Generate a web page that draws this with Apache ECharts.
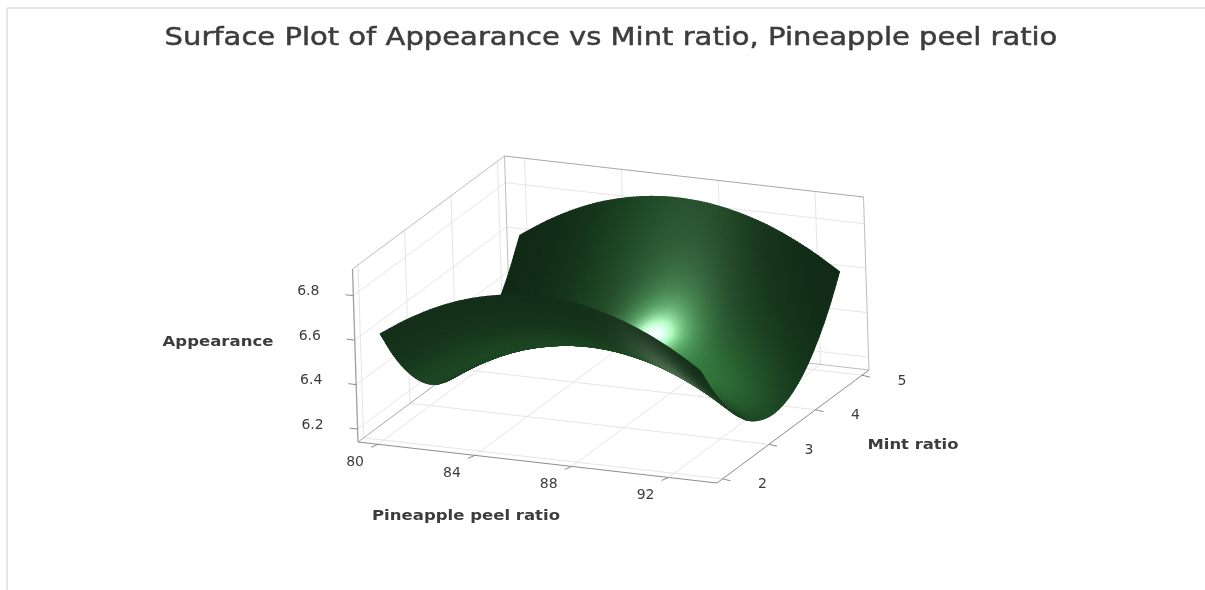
<!DOCTYPE html>
<html>
<head>
<meta charset="utf-8">
<title>Surface Plot</title>
<style>
  html, body { margin: 0; padding: 0; background: #fff; }
  #main { width: 1205px; height: 590px; }
</style>
<script src="https://cdn.jsdelivr.net/npm/echarts@6/dist/echarts.min.js"></script>
</head>
<body>
<div id="main"></div>
<script>
// values
const pineappleValues = [80, 81.1, 82.2, 83.3, 84.4, 85.5, 86.6, 87.7, 88.8, 89.9, 91, 92.1, 93.2];
const mintValues = [2, 2.25, 2.5, 2.75, 3, 3.25, 3.5, 3.75, 4, 4.25, 4.5, 4.75, 5];
// one row per mint value
const appearance = [
  [6.620, 6.696, 6.759, 6.808, 6.842, 6.863, 6.870, 6.863, 6.842, 6.808, 6.759, 6.696, 6.620],
  [6.490, 6.566, 6.629, 6.678, 6.712, 6.733, 6.740, 6.733, 6.712, 6.678, 6.629, 6.566, 6.490],
  [6.384, 6.460, 6.523, 6.572, 6.606, 6.627, 6.634, 6.627, 6.606, 6.572, 6.523, 6.460, 6.384],
  [6.300, 6.376, 6.439, 6.488, 6.522, 6.543, 6.550, 6.543, 6.522, 6.488, 6.439, 6.376, 6.300],
  [6.240, 6.316, 6.379, 6.428, 6.462, 6.483, 6.490, 6.483, 6.462, 6.428, 6.379, 6.316, 6.240],
  [6.204, 6.280, 6.343, 6.392, 6.426, 6.447, 6.454, 6.447, 6.426, 6.392, 6.343, 6.280, 6.204],
  [6.190, 6.266, 6.329, 6.378, 6.412, 6.433, 6.440, 6.433, 6.412, 6.378, 6.329, 6.266, 6.190],
  [6.200, 6.276, 6.339, 6.388, 6.422, 6.443, 6.450, 6.443, 6.422, 6.388, 6.339, 6.276, 6.200],
  [6.233, 6.309, 6.372, 6.421, 6.455, 6.476, 6.483, 6.476, 6.455, 6.421, 6.372, 6.309, 6.233],
  [6.289, 6.365, 6.428, 6.477, 6.511, 6.532, 6.539, 6.532, 6.511, 6.477, 6.428, 6.365, 6.289],
  [6.369, 6.445, 6.508, 6.557, 6.591, 6.612, 6.619, 6.612, 6.591, 6.557, 6.508, 6.445, 6.369],
  [6.471, 6.547, 6.610, 6.659, 6.693, 6.714, 6.721, 6.714, 6.693, 6.659, 6.610, 6.547, 6.471],
  [6.597, 6.673, 6.736, 6.785, 6.819, 6.840, 6.847, 6.840, 6.819, 6.785, 6.736, 6.673, 6.597]
];
const pineappleTicks = [80, 84, 88, 92];
const mintTicks = [2, 3, 4, 5];
const appearanceTicks = [6.2, 6.4, 6.6, 6.8];

const titleText = 'Surface Plot of Appearance vs Mint ratio, Pineapple peel ratio';

// box limits
const xMin = 79.17, xMax = 94;
const mMin = 1.88, mMax = 5.15;
const zMin = 6.142, zMax = 6.92;

// oblique view of the box, pixels
const origin = [358, 442];
const xVec = [359, 41];
const mVec = [152, -113];
const zVec = [-5.5, -173];

function project(x, m, z) {
  const a = (x - xMin) / (xMax - xMin);
  const b = (m - mMin) / (mMax - mMin);
  const c = (z - zMin) / (zMax - zMin);
  return [
    origin[0] + a * xVec[0] + b * mVec[0] + c * zVec[0],
    origin[1] + a * xVec[1] + b * mVec[1] + c * zVec[1]
  ];
}

// line list: frame, walls, floor, ticks
const lineColor = '#a8a8a8', gridColor = '#e6e6e6', tickColor = '#8c8c8c';
const lines = [];
function addLine(p, q, color, width) { lines.push({ p: p, q: q, color: color, width: width || 1 }); }

addLine([7, 8], [7, 590], '#dedede', 1.5);
addLine([7, 8], [1205, 8], '#dedede', 1.5);

pineappleTicks.forEach(function (x) {
  addLine(project(x, mMin, zMin), project(x, mMax, zMin), gridColor);
  addLine(project(x, mMax, zMin), project(x, mMax, zMax), gridColor);
});
mintTicks.forEach(function (m) {
  addLine(project(xMin, m, zMin), project(xMax, m, zMin), gridColor);
  addLine(project(xMin, m, zMin), project(xMin, m, zMax), gridColor);
});
appearanceTicks.forEach(function (z) {
  addLine(project(xMin, mMin, z), project(xMin, mMax, z), gridColor);
  addLine(project(xMin, mMax, z), project(xMax, mMax, z), gridColor);
});

addLine(project(xMin, mMax, zMin), project(xMin, mMax, zMax), '#bdbdbd');
addLine(project(xMax, mMax, zMin), project(xMax, mMax, zMax), '#bdbdbd');
addLine(project(xMin, mMax, zMax), project(xMax, mMax, zMax), '#a8a8a8');
addLine(project(xMin, mMin, zMax), project(xMin, mMax, zMax), '#bdbdbd');
addLine(project(xMin, mMax, zMin), project(xMax, mMax, zMin), '#bdbdbd');
addLine(project(xMin, mMin, zMin), project(xMin, mMax, zMin), lineColor);
addLine(project(xMin, mMin, zMin), project(xMin, mMin, zMax), '#a0a0a0', 1.3);
addLine(project(xMin, mMin, zMin), project(xMax, mMin, zMin), tickColor);
addLine(project(xMax, mMin, zMin), project(xMax, mMax, zMin), tickColor);

const tickFont = '14px "DejaVu Sans"';
const labelFont = 'bold 14px "DejaVu Sans"';
const texts = [];
pineappleTicks.forEach(function (x) {
  const p = project(x, mMin, zMin);
  addLine(p, [p[0] - 7, p[1] + 3], tickColor);
  texts.push({ text: String(x), x: p[0] - 23, y: p[1] + 18, font: tickFont });
});
mintTicks.forEach(function (m) {
  const p = project(xMax, m, zMin);
  addLine(p, [p[0] + 8, p[1] + 2], tickColor);
  texts.push({ text: String(m), x: p[0] + 40, y: p[1] + 6, font: tickFont });
});
appearanceTicks.forEach(function (z) {
  const p = project(xMin, mMin, z);
  addLine(p, [p[0] - 8, p[1] - 1], tickColor);
  texts.push({ text: z.toFixed(1), x: p[0] - 45, y: p[1] - 4, font: tickFont });
});
// the picture's text is stretched sideways
texts.push({ text: 'Appearance', x: 218, y: 342, font: labelFont, stretch: 1.18 });
texts.push({ text: 'Pineapple peel ratio', x: 466, y: 516, font: labelFont, stretch: 1.18 });
texts.push({ text: 'Mint ratio', x: 913, y: 445, font: labelFont, stretch: 1.17 });
texts.push({ text: titleText, x: 611, y: 38, font: '25px "DejaVu Sans"', stretch: 1.161, weight: 0.5 });

// smooth drawing of the read values
function catmull(p0, p1, p2, p3, t) {
  return 0.5 * (2 * p1 + (p2 - p0) * t + (2 * p0 - 5 * p1 + 4 * p2 - p3) * t * t + (3 * p1 - p0 - 3 * p2 + p3) * t * t * t);
}
function clampIndex(i, n) { return Math.max(0, Math.min(n - 1, i)); }
function rowAt(r, ci, t) {
  const row = appearance[clampIndex(r, appearance.length)];
  const n = row.length;
  let p0 = row[clampIndex(ci - 1, n)], p3 = row[clampIndex(ci + 2, n)];
  if (ci - 1 < 0) p0 = 2 * row[0] - row[1];
  if (ci + 2 >= n) p3 = 2 * row[n - 1] - row[n - 2];
  return catmull(p0, row[ci], row[clampIndex(ci + 1, n)], p3, t);
}
function heightAt(c, r) {
  const ci = Math.min(Math.floor(c), pineappleValues.length - 2), ct = c - ci;
  const ri = Math.min(Math.floor(r), mintValues.length - 2), rt = r - ri;
  const a = rowAt(ri, ci, ct), b = rowAt(ri + 1, ci, ct);
  const prev = ri - 1 < 0 ? 2 * a - b : rowAt(ri - 1, ci, ct);
  const next = ri + 2 >= mintValues.length ? 2 * b - a : rowAt(ri + 2, ci, ct);
  return catmull(prev, a, b, next, rt);
}

const SUB = 9;
const nx = (pineappleValues.length - 1) * SUB + 1;
const ny = (mintValues.length - 1) * SUB + 1;
const xStep = pineappleValues[1] - pineappleValues[0];
const mStep = mintValues[1] - mintValues[0];

function xAt(i) { return pineappleValues[0] + i / SUB * xStep; }
function mAt(j) { return mintValues[0] + j / SUB * mStep; }

const mesh = [];
for (let j = 0; j < ny; j++) {
  const row = [];
  for (let i = 0; i < nx; i++) {
    row.push(project(xAt(i), mAt(j), heightAt(i / SUB, j / SUB)));
  }
  mesh.push(row);
}

function spot(x, m, cx, cm, sx, sm) {
  const a = (x - cx) / sx, b = (m - cm) / sm;
  return Math.exp(-a * a - b * b);
}
function clamp255(v) { return Math.round(Math.max(0, Math.min(255, v))); }

// lit colour, one ramp for the upper side and one for the underside
function shade(x, m, upper) {
  let r, g, b;
  if (upper) {
    const green = spot(x, m, 90.7, 3.3, 2.8, 0.9);
    const broad = spot(x, m, 86.3, 4.6, 3.2, 1.4);
    const band = spot(x, m, 87.8, 4.2, 2.2, 1.0);
    const glow = spot(x, m, 87.9, 3.75, 1.5, 0.55);
    const hot = spot(x, m, 87.9, 3.75, 0.75, 0.26);
    r = 17 + 30 * green + 14 * broad + 22 * band + 60 * glow + 140 * hot;
    g = 42 + 70 * green + 32 * broad + 24 * band + 110 * glow + 110 * hot;
    b = 22 + 34 * green + 16 * broad + 22 * band + 70 * glow + 140 * hot;
  } else {
    const low = Math.exp(-Math.pow((m - 3.0) / 0.6, 2));
    const gray = spot(x, m, 90.9, 2.6, 1.5, 0.5);
    const tip = spot(x, m, 93, 3.05, 1.3, 0.22);
    r = 20 + 10 * low + 50 * gray + 28 * tip;
    g = 46 + 26 * low + 46 * gray + 60 * tip;
    b = 25 + 12 * low + 46 * gray + 32 * tip;
  }
  return 'rgb(' + clamp255(r) + ',' + clamp255(g) + ',' + clamp255(b) + ')';
}

// far cells first: high mint, low pineapple
const cells = [];
for (let j = ny - 2; j >= 0; j--) {
  for (let i = 0; i < nx - 1; i++) {
    cells.push([i, j]);
  }
}

function renderCell(params, api) {
  const i = api.value(0), j = api.value(1);
  const a = mesh[j][i], b = mesh[j][i + 1], c = mesh[j + 1][i + 1], d = mesh[j + 1][i];
  const area = (c[0] - a[0]) * (d[1] - b[1]) - (c[1] - a[1]) * (d[0] - b[0]);
  const color = shade(xAt(i + 0.5), mAt(j + 0.5), area < 0);
  return {
    type: 'polygon',
    shape: { points: [a, b, c, d] },
    style: { fill: color, stroke: color, lineWidth: 1.2 },
    silent: true
  };
}

function renderLine(params) {
  const l = lines[params.dataIndex];
  return {
    type: 'line',
    shape: { x1: l.p[0], y1: l.p[1], x2: l.q[0], y2: l.q[1] },
    style: { stroke: l.color, lineWidth: l.width },
    silent: true
  };
}

function renderText(params) {
  const t = texts[params.dataIndex];
  return {
    type: 'text',
    x: t.x,
    y: t.y,
    scaleX: t.stretch || 1,
    style: {
      text: t.text,
      x: 0,
      y: 0,
      font: t.font,
      fill: '#3c3c3c',
      stroke: t.weight ? '#3c3c3c' : null,
      lineWidth: t.weight || 0,
      align: 'center',
      verticalAlign: 'middle'
    },
    silent: true
  };
}

const chart = echarts.init(document.getElementById('main'), null, { renderer: 'canvas' });
chart.setOption({
  animation: false,
  backgroundColor: '#fff',
  series: [
    { type: 'custom', coordinateSystem: 'none', data: lines.map(function (l, i) { return [i]; }), renderItem: renderLine, z: 1, progressive: 0 },
    { type: 'custom', coordinateSystem: 'none', data: cells, renderItem: renderCell, z: 2, progressive: 0 },
    { type: 'custom', coordinateSystem: 'none', data: texts.map(function (t, i) { return [i]; }), renderItem: renderText, z: 3, progressive: 0 }
  ]
});
</script>
</body>
</html>
